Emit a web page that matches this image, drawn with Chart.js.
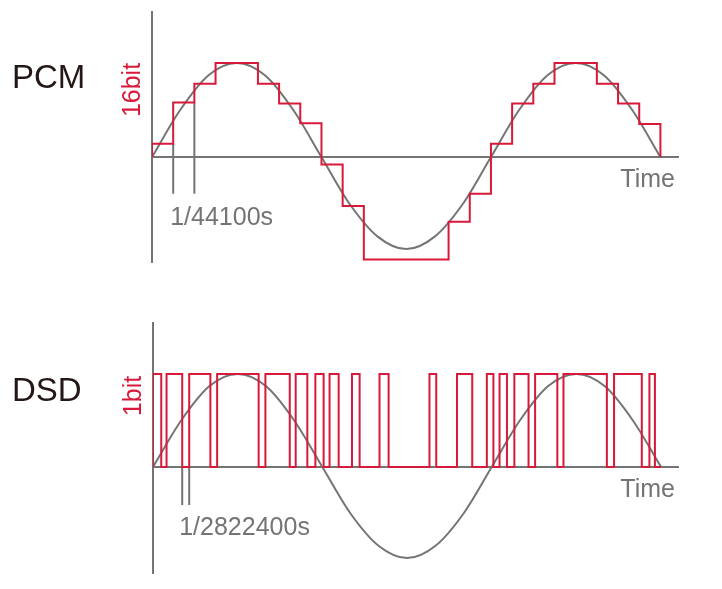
<!DOCTYPE html>
<html>
<head>
<meta charset="utf-8">
<title>PCM / DSD</title>
<script src="https://cdn.jsdelivr.net/npm/chart.js@4.4.1/dist/chart.umd.min.js"></script>
<style>
  body { margin: 0; background: #fff; }
  .wrap { position: relative; width: 722px; height: 589px; }
  canvas { position: absolute; left: 0; }
  #chart-pcm { top: 0; }
  #chart-dsd { top: 300px; }
</style>
</head>
<body>
<div class="wrap">
  <canvas id="chart-pcm" width="722" height="300"></canvas>
  <canvas id="chart-dsd" width="722" height="289"></canvas>
</div>
<script>
// time is counted in PCM samples (1 sample = 1/44100s), the wave period is 16 samples
const sineTimes = [0, 1.33, 2.67, 4, 5.33, 6.67, 8, 9.33, 10.67, 12, 13.33, 14.67, 16, 17.33, 18.67, 20, 21.33, 22.67, 24];
const sineValues = [0, 50, 87, 100, 87, 50, 0, -50, -85, -98, -85, -50, 0, 50, 87, 100, 87, 50, 0];

// held level of each PCM sample
const pcmSamples = [14, 58, 78, 100, 100, 78, 57, 36, -8, -52, -109, -109, -109, -109, -69, -39, 14, 57, 78, 100, 100, 78, 57, 35];
const pcmMarks = [1, 2];

// DSD pulses (1bit): rising and falling edges
const dsdRise = [0, 0.64, 1.71, 3.03, 5.31, 6.74, 7.67, 8.34, 9.4, 10.7, 13.06, 14.36, 15.77, 16.37, 17.07, 18.05, 19.39, 21.78, 23.45];
const dsdFall = [0.39, 1.38, 2.71, 4.99, 6.46, 7.29, 8.06, 8.77, 9.76, 11.13, 13.38, 15.08, 16.08, 16.72, 17.74, 19.1, 21.44, 23.09, 23.71];
const dsdHigh = 100;
const dsdMarks = [1.38, 1.71];

const pcmText = { name: "PCM", bits: "16bit", period: "1/44100s" };
const dsdText = { name: "DSD", bits: "1bit", period: "1/2822400s" };
const timeText = "Time";

const RED = "#d7193a";
const GRAY = "#747474";
const INK = "#231815";
const FONT = '"Liberation Sans", Arial, Helvetica, sans-serif';

function sinePoints() {
  return sineTimes.map((t, i) => ({ x: t, y: sineValues[i] }));
}

function pcmPoints() {
  const pts = [{ x: 0, y: 0 }];
  pcmSamples.forEach((v, i) => pts.push({ x: i, y: v }));
  pts.push({ x: pcmSamples.length, y: 0 });
  return pts;
}

function dsdPoints() {
  const pts = [{ x: 0, y: 0 }];
  dsdRise.forEach((r, i) => {
    pts.push({ x: r, y: dsdHigh });
    pts.push({ x: dsdFall[i], y: 0 });
  });
  pts.push({ x: 24, y: 0 });
  return pts;
}

function markPoints(marks, tops, depth) {
  const pts = [];
  marks.forEach((m, i) => {
    pts.push({ x: m, y: tops[i] });
    pts.push({ x: m, y: depth });
    pts.push({ x: m, y: null });
  });
  return pts;
}

// labels around the plot, placed from the chart's own scales
function labelPlugin(text, opts) {
  return {
    id: "labels",
    afterDraw(chart) {
      const ctx = chart.ctx;
      const area = chart.chartArea;
      const zero = chart.scales.y.getPixelForValue(0);
      const markX = chart.scales.x.getPixelForValue(opts.markAt);
      const put = (str, x, y, size, color, align, rotate) => {
        ctx.save();
        ctx.font = size + "px " + FONT;
        ctx.fillStyle = color;
        ctx.textAlign = align;
        ctx.textBaseline = "alphabetic";
        ctx.translate(x, y);
        if (rotate) ctx.rotate(-Math.PI / 2);
        ctx.fillText(str, 0, 0);
        ctx.restore();
      };
      put(text.name, 12, opts.nameBase, 33, INK, "left", false);
      put(text.bits, area.left - 12, opts.bitsMid, 25, RED, "center", true);
      put(text.period, markX - 3, zero + 68, 25, GRAY, "left", false);
      put(timeText, area.right - 3, zero + 30, 25, GRAY, "right", false);
    },
  };
}

function makeChart(id, signal, marks, range, padding, text, opts) {
  const canvas = document.getElementById(id);
  return new Chart(canvas.getContext("2d"), {
    type: "line",
    data: {
      datasets: [
        { data: signal, borderColor: RED, borderWidth: 2, stepped: true },
        { data: sinePoints(), borderColor: GRAY, borderWidth: 2, cubicInterpolationMode: "monotone" },
        { data: marks, borderColor: GRAY, borderWidth: 2, spanGaps: false },
      ],
    },
    options: {
      responsive: false,
      animation: false,
      events: [],
      layout: { padding: padding },
      elements: { point: { radius: 0 }, line: { fill: false, borderJoinStyle: "miter" } },
      plugins: { legend: { display: false }, tooltip: { enabled: false } },
      scales: {
        x: {
          type: "linear",
          position: { y: 0 },
          min: 0,
          max: range.x,
          grid: { display: false, drawTicks: false },
          ticks: { display: false },
          border: { display: true, color: GRAY, width: 2 },
          afterFit: (s) => { s.height = 0; },
        },
        y: {
          type: "linear",
          position: "left",
          min: range.yMin,
          max: range.yMax,
          grid: { display: false, drawTicks: false },
          ticks: { display: false },
          border: { display: true, color: GRAY, width: 2 },
          afterFit: (s) => { s.width = 0; },
        },
      },
    },
    plugins: [labelPlugin(text, opts)],
  });
}

makeChart(
  "chart-pcm",
  pcmPoints(),
  markPoints(pcmMarks, pcmMarks.map((m) => pcmSamples[m - 1]), -39),
  { x: 24.83, yMin: -111.7, yMax: 154.3 },
  { left: 152, right: 44, top: 12, bottom: 38 },
  pcmText,
  { markAt: pcmMarks[0], nameBase: 88, bitsMid: 90 }
);

makeChart(
  "chart-dsd",
  dsdPoints(),
  markPoints(dsdMarks, [0, 0], -41),
  { x: 24.8, yMin: -114, yMax: 154.8 },
  { left: 153, right: 44, top: 23, bottom: 16 },
  dsdText,
  { markAt: dsdMarks[0], nameBase: 101, bitsMid: 96 }
);
</script>
</body>
</html>
